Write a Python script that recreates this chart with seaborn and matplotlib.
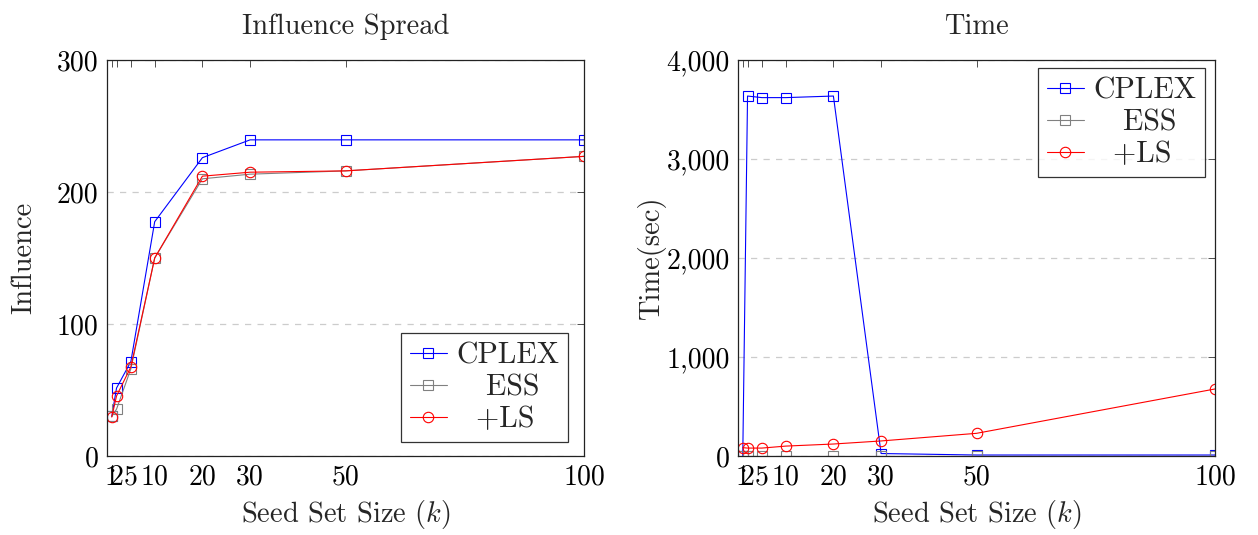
import numpy as np
import pandas as pd
import matplotlib
matplotlib.use("Agg")
import matplotlib.pyplot as plt
from matplotlib.ticker import FuncFormatter
import seaborn as sns

# ---- data ----
k_values = [1, 2, 5, 10, 20, 30, 50, 100]
methods = ["CPLEX", "ESS", "+LS"]

influence_cplex = [30, 51.5, 71.5, 177.5, 226, 239.5, 239.5, 239.5]
influence_ess = [30, 35.5, 66, 150, 210, 213.5, 216, 227]
influence_ls = [29.5, 45.5, 67.5, 150, 212, 215, 216, 227]

time_cplex = [5, 3636, 3620, 3620, 3636, 25, 10, 10]
time_ess = [3, 3, 3, 3, 3, 3, 3, 3]
time_ls = [84, 80, 80, 100, 121, 152, 229, 677]

x_ticks = [1, 2, 5, 10, 20, 30, 50, 100]
infl_ticks = [0, 100, 200, 300]
time_ticks = [0, 1000, 2000, 3000, 4000]

# ---- style ----
sns.set_theme(style="white")
plt.rcParams["font.family"] = ["cmr10", "DejaVu Serif"]
plt.rcParams["mathtext.fontset"] = "cm"
plt.rcParams["axes.unicode_minus"] = False
plt.rcParams["axes.formatter.use_mathtext"] = True

colors = {"CPLEX": (0, 0, 1), "ESS": (0.5, 0.5, 0.5), "+LS": (1, 0, 0)}
markers = {"CPLEX": "s", "ESS": "s", "+LS": "o"}
legend_labels = {"CPLEX": "CPLEX", "ESS": "   ESS", "+LS": "  +LS"}

fig = plt.figure(figsize=(12.58, 5.35), dpi=100)
ax1 = fig.add_axes([107 / 1258, 1 - 456 / 535, 477 / 1258, 396 / 535])
ax2 = fig.add_axes([738 / 1258, 1 - 456 / 535, 477 / 1258, 396 / 535])

def draw(ax, series, yticks, ylim, title, ylabel, fmt, ylabelpad):
    for name, vals in zip(methods, series):
        df = pd.DataFrame({"k": k_values, "v": vals})
        sns.lineplot(data=df, x="k", y="v", ax=ax, color=colors[name],
                     marker=markers[name], markersize=7.5,
                     markerfacecolor="none", markeredgecolor=colors[name],
                     markeredgewidth=0.8, linewidth=0.8,
                     label=legend_labels[name], errorbar=None)
    ax.set_xlim(0, 100)
    ax.set_ylim(*ylim)
    ax.set_xticks(x_ticks)
    ax.set_xticklabels([str(t) for t in x_ticks])
    ax.set_yticks(yticks)
    ax.yaxis.set_major_formatter(FuncFormatter(fmt))
    ax.tick_params(direction="in", length=5, width=0.6, colors="#333333",
                   labelcolor="black", labelsize=20, top=True, right=True,
                   pad=6)
    ax.grid(axis="y", color="#cccccc", linestyle=(0, (5, 5)), linewidth=0.9)
    ax.grid(axis="x", visible=False)
    for s in ax.spines.values():
        s.set_color("#222222")
        s.set_linewidth(0.9)
    ax.set_title(title, fontsize=20.5, pad=19)
    ax.set_xlabel(r"Seed Set Size ($k$)", fontsize=20.5, labelpad=5)
    ax.set_ylabel(ylabel, fontsize=20.5, labelpad=ylabelpad)
    leg = ax.legend(fontsize=21.5, frameon=True, fancybox=False,
                    handlelength=1.25, handletextpad=0.3, labelspacing=0.15,
                    borderpad=0.3, borderaxespad=0)
    leg.get_frame().set_edgecolor("black")
    leg.get_frame().set_linewidth(0.9)
    return leg

leg1 = draw(ax1, [influence_cplex, influence_ess, influence_ls], infl_ticks,
            (0, 300), "Influence Spread", "Influence", lambda v, p: f"{v:.0f}", 14)
leg1.set_loc("lower right")
leg1.set_bbox_to_anchor(((568 - 107) / 477, (456 - 442) / 396), transform=ax1.transAxes)

leg2 = draw(ax2, [time_cplex, time_ess, time_ls], time_ticks, (0, 4000),
            "Time", "Time(sec)", lambda v, p: f"{v:,.0f}", 0)
leg2.set_loc("upper right")
leg2.set_bbox_to_anchor(((1205 - 738) / 477, (456 - 68) / 396), transform=ax2.transAxes)

fig.savefig("out.png", dpi=100)
